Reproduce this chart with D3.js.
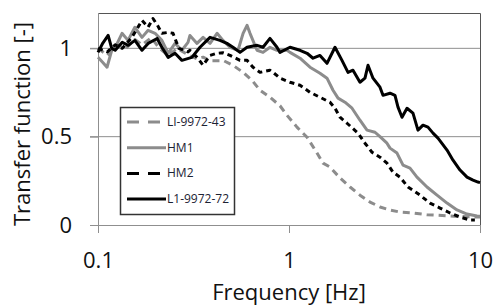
<!DOCTYPE html>
<html>
<head>
<meta charset="utf-8">
<script src="https://cdn.jsdelivr.net/npm/d3@7"></script>
<style>
  body { margin: 0; background: #ffffff; }
  svg { display: block; font-family: "Open Sans", sans-serif; }
</style>
</head>
<body>
<svg id="transfer_chart" width="496" height="307"></svg>
<script>
/*
 * Transfer function vs frequency, four measurement series on a log axis.
 * Each series is a list of [frequency (Hz), transfer function (-)].
 */

var seriesNames = ['LI-9972-43', 'HM1', 'HM2', 'L1-9972-72'];

var li997243 = [
  [0.1, 1.0], [0.112, 0.96], [0.125, 1.02], [0.14, 1.0], [0.156, 1.05], [0.17, 1.02],
  [0.19, 1.06], [0.21, 1.0], [0.233, 0.96], [0.26, 1.0], [0.3, 0.96], [0.33, 0.94],
  [0.355, 0.95], [0.386, 0.93], [0.435, 0.93], [0.451, 0.932], [0.509, 0.904],
  [0.575, 0.864], [0.64, 0.819], [0.705, 0.763], [0.795, 0.723], [0.897, 0.675],
  [0.976, 0.621], [1.101, 0.554], [1.243, 0.497], [1.402, 0.407], [1.507, 0.35],
  [1.639, 0.328], [1.849, 0.266], [2.087, 0.215], [2.353, 0.169], [2.655, 0.13],
  [2.995, 0.102], [3.38, 0.085], [3.811, 0.073], [4.457, 0.068], [5.278, 0.058],
  [6.719, 0.052], [7.858, 0.048], [9.64, 0.045], [10, 0.045]
];

var hm1 = [
  [0.1, 0.949], [0.106, 0.92], [0.1115, 0.893], [0.118, 0.989], [0.125, 1.02],
  [0.1336, 1.085], [0.1436, 1.045], [0.156, 1.119], [0.17, 1.062], [0.183, 1.102],
  [0.199, 1.085], [0.216, 1.045], [0.233, 0.972], [0.253, 1.028], [0.275, 0.989],
  [0.296, 1.034], [0.303, 1.073], [0.33, 1.028], [0.355, 1.062], [0.386, 1.028],
  [0.42, 1.085], [0.451, 1.045], [0.491, 1.006], [0.541, 0.989], [0.575, 1.085],
  [0.603, 1.13], [0.625, 1.085], [0.68, 0.989], [0.731, 0.977], [0.795, 1.006],
  [0.865, 0.989], [0.976, 0.989], [1.012, 0.977], [1.142, 0.944], [1.288, 0.893],
  [1.453, 0.859], [1.581, 0.831], [1.70, 0.763], [1.806, 0.718], [1.963, 0.695],
  [2.138, 0.661], [2.353, 0.593], [2.561, 0.537], [2.82, 0.525], [2.995, 0.5],
  [3.258, 0.463], [3.38, 0.435], [3.676, 0.407], [3.953, 0.339], [4.3, 0.322],
  [4.677, 0.271], [5.278, 0.215], [5.956, 0.169], [6.719, 0.124], [7.579, 0.085],
  [8.55, 0.062], [9.64, 0.051], [10, 0.05]
];

var hm2 = [
  [0.1, 1.0], [0.112, 0.98], [0.123, 1.02], [0.134, 1.0], [0.15, 1.06], [0.162, 1.12],
  [0.17, 1.158], [0.183, 1.12], [0.194, 1.169], [0.205, 1.13], [0.216, 1.085],
  [0.233, 1.09], [0.247, 1.085], [0.265, 1.0], [0.296, 0.98], [0.303, 0.989],
  [0.33, 0.949], [0.355, 0.904], [0.386, 0.96], [0.42, 0.972], [0.451, 0.975],
  [0.491, 0.96], [0.554, 0.932], [0.603, 0.932], [0.648, 0.893], [0.705, 0.864],
  [0.795, 0.876], [0.825, 0.864], [0.897, 0.831], [1.012, 0.808], [1.142, 0.791],
  [1.288, 0.751], [1.453, 0.723], [1.639, 0.695], [1.741, 0.661], [1.849, 0.61],
  [2.013, 0.576], [2.298, 0.52], [2.499, 0.463], [2.72, 0.412], [2.995, 0.384],
  [3.258, 0.35], [3.504, 0.299], [3.811, 0.271], [4.198, 0.215], [4.677, 0.181],
  [4.852, 0.169], [5.47, 0.124], [6.174, 0.096], [6.966, 0.068], [7.858, 0.045],
  [8.865, 0.028], [9.4, 0.028]
];

var l1997272 = [
  [0.1, 0.977], [0.106, 1.03], [0.113, 1.073], [0.118, 1.0], [0.123, 0.989],
  [0.134, 1.034], [0.144, 1.017], [0.156, 1.045], [0.17, 0.989], [0.183, 1.028],
  [0.204, 1.056], [0.216, 1.006], [0.233, 0.949], [0.253, 0.972], [0.275, 0.932],
  [0.31, 0.949], [0.342, 1.006], [0.386, 1.062], [0.435, 1.045], [0.473, 1.028],
  [0.509, 1.006], [0.554, 0.977], [0.603, 1.006], [0.68, 1.017], [0.731, 1.006],
  [0.795, 1.056], [0.865, 1.006], [0.897, 0.977], [1.012, 1.006], [1.142, 0.989],
  [1.243, 0.972], [1.336, 0.944], [1.453, 0.96], [1.581, 0.915], [1.741, 1.006],
  [1.894, 0.932], [2.037, 0.864], [2.163, 0.876], [2.353, 0.808], [2.499, 0.831],
  [2.592, 0.904], [2.753, 0.831], [2.995, 0.78], [3.105, 0.734], [3.38, 0.746],
  [3.589, 0.734], [3.721, 0.667], [3.905, 0.61], [4.148, 0.661], [4.457, 0.633],
  [4.733, 0.537], [5.03, 0.565], [5.342, 0.554], [5.675, 0.52], [6.026, 0.492],
  [6.719, 0.424], [7.222, 0.367], [7.858, 0.311], [8.55, 0.271], [9.192, 0.254],
  [9.76, 0.243], [10, 0.24]
];

var xTicks = [0.1, 1, 10];
var xTickLabels = ['0.1', '1', '10'];
var yTicks = [0, 0.5, 1];
var yTickLabels = ['0', '0.5', '1'];

function renderGraph(element) {
  'use strict';
  var svg = d3.select('#' + element),
    margin = {top: 13, right: 16, bottom: 82, left: 98},
    width = svg.attr('width') - margin.left - margin.right,
    height = svg.attr('height') - margin.top - margin.bottom;

  var x = d3.scaleLog().domain([0.1, 10]).range([0, width]);
  var y = d3.scaleLinear().domain([0, 1.2]).range([height, 0]);

  var g = svg.append('g')
    .attr('transform', 'translate(' + margin.left + ', ' + margin.top + ')');

  // Grid lines at 0.5 and 1, starting at the tick marks.
  g.selectAll('.grid')
    .data([0.5, 1])
    .enter()
    .append('line')
      .attr('x1', -8)
      .attr('x2', width)
      .attr('y1', function(d) { return y(d); })
      .attr('y2', function(d) { return y(d); })
      .attr('stroke', '#8f8f8f')
      .attr('stroke-width', 1);

  // Top and right frame of the plot area.
  g.append('path')
    .attr('d', 'M0,0.5H' + (width + 0.5) + 'V' + height)
    .attr('fill', 'none')
    .attr('stroke', '#555555')
    .attr('stroke-width', 1);

  // X Axis
  var xAxis = g.append('g')
    .attr('transform', 'translate(0, ' + height + ')')
    .call(d3.axisBottom(x).tickValues(xTicks).tickSize(8).tickPadding(19)
      .tickFormat(function(d, i) { return xTickLabels[i]; }));
  xAxis.select('.domain').attr('stroke', '#8f8f8f').attr('d', 'M-8,0.5H' + width);
  xAxis.selectAll('.tick line').attr('stroke', '#8f8f8f');
  xAxis.selectAll('.tick text')
    .attr('font-size', 22)
    .attr('fill', '#111111')
    .attr('font-family', '"Open Sans", sans-serif');

  // Y Axis
  var yAxis = g.append('g')
    .call(d3.axisLeft(y).tickValues(yTicks).tickSize(8).tickPadding(18)
      .tickFormat(function(d, i) { return yTickLabels[i]; }));
  yAxis.select('.domain').attr('stroke', '#8f8f8f').attr('d', 'M0.5,0V' + (height + 8));
  yAxis.selectAll('.tick line').attr('stroke', '#8f8f8f');
  yAxis.selectAll('.tick text')
    .attr('font-size', 22)
    .attr('fill', '#111111')
    .attr('font-family', '"Open Sans", sans-serif');

  // Axis titles
  svg.append('text')
    .attr('x', margin.left + x(1))
    .attr('y', 300)
    .attr('text-anchor', 'middle')
    .attr('font-size', 22)
    .attr('fill', '#111111')
    .text('Frequency [Hz]');

  svg.append('text')
    .attr('transform', 'translate(30, ' + 124 + ') rotate(-90)')
    .attr('text-anchor', 'middle')
    .attr('font-size', 22)
    .attr('fill', '#111111')
    .text('Transfer function [-]');

  var styles = [
    {data: li997243, color: '#8c8c8c', dash: '7,5', legendDash: '12,9'},
    {data: hm1, color: '#8c8c8c', dash: null, legendDash: null},
    {data: hm2, color: '#000000', dash: '5,4', legendDash: '12,9'},
    {data: l1997272, color: '#000000', dash: null, legendDash: null}
  ];

  var line = d3.line()
    .x(function(d) { return x(d[0]); })
    .y(function(d) { return y(d[1]); });

  // Draw the series, last one on top.
  g.selectAll('.series')
    .data(styles)
    .enter()
    .append('path')
      .attr('class', 'series')
      .attr('d', function(d) { return line(d.data); })
      .attr('fill', 'none')
      .attr('stroke', function(d) { return d.color; })
      .attr('stroke-width', 3)
      .attr('stroke-linejoin', 'round')
      .attr('stroke-dasharray', function(d) { return d.dash; });

  // Legend box
  var legend = svg.append('g').attr('transform', 'translate(120, 107)');
  legend.append('rect')
    .attr('x', 0.5)
    .attr('y', 0.5)
    .attr('width', 114)
    .attr('height', 107)
    .attr('fill', '#ffffff')
    .attr('stroke', '#333333')
    .attr('stroke-width', 1.5);

  var items = legend.selectAll('.item')
    .data(styles)
    .enter()
    .append('g')
      .attr('transform', function(d, i) { return 'translate(0, ' + (15 + i * 25.7) + ')'; });

  items.append('line')
    .attr('x1', 7)
    .attr('x2', 46)
    .attr('stroke', function(d) { return d.color; })
    .attr('stroke-width', 3)
    .attr('stroke-dasharray', function(d) { return d.legendDash; });

  items.append('text')
    .attr('x', 47)
    .attr('y', 4)
    .attr('font-size', 12)
    .attr('fill', '#1c2233')
    .text(function(d, i) { return seriesNames[i]; });
}

renderGraph('transfer_chart');
</script>
</body>
</html>
